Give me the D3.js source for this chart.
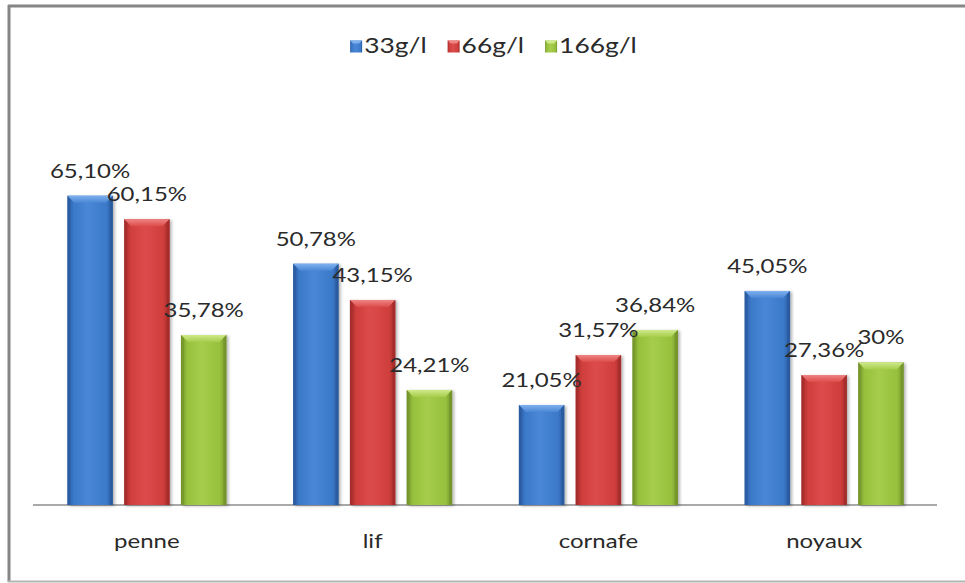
<!DOCTYPE html>
<html>
<head>
<meta charset="utf-8">
<script src="https://cdn.jsdelivr.net/npm/d3@7"></script>
<style>
  html, body { margin: 0; padding: 0; background: #fff; }
  svg { display: block; }
  text { font-family: Lato, "Open Sans", sans-serif; fill: #2a2a2a; }
</style>
</head>
<body>
<svg id="chart" width="965" height="583"></svg>
<script>
// Chart data
const categories = ["penne", "lif", "cornafe", "noyaux"];
const series = ["33g/l", "66g/l", "166g/l"];
const values33 = [65.10, 50.78, 21.05, 45.05];
const values66 = [60.15, 43.15, 31.57, 27.36];
const values166 = [35.78, 24.21, 36.84, 30];
const valueLabels33 = ["65,10%", "50,78%", "21,05%", "45,05%"];
const valueLabels66 = ["60,15%", "43,15%", "31,57%", "27,36%"];
const valueLabels166 = ["35,78%", "24,21%", "36,84%", "30%"];

const seriesValues = [values33, values66, values166];
const seriesLabels = [valueLabels33, valueLabels66, valueLabels166];

// Palette per series: body, dark edge, light bevel
const palette = [
  { body: "#3b79c9", dark: "#2a5a9e", light: "#7fb0ee", mid: "#4a87d6" },
  { body: "#cf3e3c", dark: "#a32c2b", light: "#ef8583", mid: "#dc4c4a" },
  { body: "#97c03d", dark: "#73932a", light: "#cfe98a", mid: "#a6cd4c" }
];

const svg = d3.select("#chart");
const W = 965, H = 583;
const SX = 1.2; // horizontal text stretch

const defs = svg.append("defs");
const shadow = defs.append("filter").attr("id", "shadow")
  .attr("x", "-20%").attr("y", "-10%").attr("width", "140%").attr("height", "120%");
shadow.append("feDropShadow").attr("dx", 2).attr("dy", 1)
  .attr("stdDeviation", 1.6).attr("flood-color", "#000").attr("flood-opacity", 0.3);

palette.forEach((p, i) => {
  const g = defs.append("linearGradient").attr("id", "body" + i)
    .attr("x1", 0).attr("x2", 1).attr("y1", 0).attr("y2", 0);
  g.append("stop").attr("offset", "0%").attr("stop-color", p.dark);
  g.append("stop").attr("offset", "14%").attr("stop-color", p.body);
  g.append("stop").attr("offset", "45%").attr("stop-color", p.mid);
  g.append("stop").attr("offset", "86%").attr("stop-color", p.body);
  g.append("stop").attr("offset", "100%").attr("stop-color", p.dark);
  const t = defs.append("linearGradient").attr("id", "top" + i)
    .attr("x1", 0).attr("x2", 0).attr("y1", 0).attr("y2", 1);
  t.append("stop").attr("offset", "0%").attr("stop-color", p.light);
  t.append("stop").attr("offset", "100%").attr("stop-color", p.mid);
});

// Frame
svg.append("line").attr("x1", 8).attr("x2", W).attr("y1", 6).attr("y2", 6)
  .attr("stroke", "#868686").attr("stroke-width", 3);
svg.append("line").attr("x1", 9).attr("x2", 9).attr("y1", 5).attr("y2", 582)
  .attr("stroke", "#868686").attr("stroke-width", 3);
svg.append("line").attr("x1", 8).attr("x2", W).attr("y1", 581.5).attr("y2", 581.5)
  .attr("stroke", "#b4b4b4").attr("stroke-width", 2);

// Scales
const y = d3.scaleLinear().domain([0, 70]).range([505, 172.4]);
const x0 = d3.scaleBand().domain(categories).range([34, 937]).paddingInner(0).paddingOuter(0);
const groupW = 159;
const x1 = d3.scaleBand().domain(series)
  .range([(x0.bandwidth() - groupW) / 2, (x0.bandwidth() + groupW) / 2])
  .paddingInner(0.2).paddingOuter(0);

// Baseline
svg.append("line").attr("x1", x0.range()[0] - 1).attr("x2", x0.range()[1])
  .attr("y1", y(0)).attr("y2", y(0)).attr("stroke", "#8c8c8c").attr("stroke-width", 1.5);

function stretchedText(sel, xPos, yPos, str, size, anchor) {
  return sel.append("text")
    .attr("transform", `translate(${xPos},${yPos}) scale(${SX},1)`)
    .attr("text-anchor", anchor || "middle")
    .attr("font-size", size)
    .text(str);
}

// Bars
const bars = svg.append("g");
categories.forEach((cat, ci) => {
  series.forEach((s, si) => {
    const v = seriesValues[si][ci];
    const p = palette[si];
    const bx = x0(cat) + x1(s);
    const bw = x1.bandwidth();
    const top = y(v);
    const base = y(0);
    const bev = 7;
    const g = bars.append("g");
    g.append("rect").attr("x", bx).attr("y", top).attr("width", bw).attr("height", base - top)
      .attr("fill", `url(#body${si})`).attr("filter", "url(#shadow)");
    // top bevel
    g.append("path")
      .attr("d", `M${bx},${top} L${bx + bw},${top} L${bx + bw - bev},${top + bev} L${bx + bev},${top + bev} Z`)
      .attr("fill", `url(#top${si})`);
    // side bevels
    g.append("path")
      .attr("d", `M${bx},${top} L${bx + 3},${top + 3} L${bx + 3},${base} L${bx},${base} Z`)
      .attr("fill", p.dark).attr("opacity", 0.55);
    g.append("path")
      .attr("d", `M${bx + bw},${top} L${bx + bw - 3},${top + 3} L${bx + bw - 3},${base} L${bx + bw},${base} Z`)
      .attr("fill", p.dark).attr("opacity", 0.75);
  });
});

// Value labels
categories.forEach((cat, ci) => {
  series.forEach((s, si) => {
    const v = seriesValues[si][ci];
    const cx = x0(cat) + x1(s) + x1.bandwidth() / 2;
    stretchedText(svg, cx, y(v) - 18, seriesLabels[si][ci], 20);
  });
});

// Category labels
categories.forEach(cat => {
  stretchedText(svg, x0(cat) + x0.bandwidth() / 2, 548, cat, 20);
});

// Legend
const legend = svg.append("g");
const items = series.map((s, i) => {
  const g = legend.append("g");
  const t = stretchedText(g, 0, 0, s, 22, "start");
  const w = t.node().getComputedTextLength() * SX;
  return { g, t, w, i };
});
const sq = 12, gapSq = 2, gapItem = 21;
const totalW = d3.sum(items, d => sq + gapSq + d.w) + gapItem * (items.length - 1);
let lx = 493.5 - totalW / 2;
items.forEach(d => {
  const p = palette[d.i];
  d.g.append("rect").attr("x", lx).attr("y", 40.5).attr("width", sq).attr("height", sq)
    .attr("fill", `url(#body${d.i})`);
  d.g.append("path")
    .attr("d", `M${lx},${40.5} L${lx + sq},${40.5} L${lx + sq - 3},${43.5} L${lx + 3},${43.5} Z`)
    .attr("fill", p.light);
  d.t.attr("transform", `translate(${lx + sq + gapSq},53) scale(${SX},1)`);
  lx += sq + gapSq + d.w + gapItem;
});
</script>
</body>
</html>
